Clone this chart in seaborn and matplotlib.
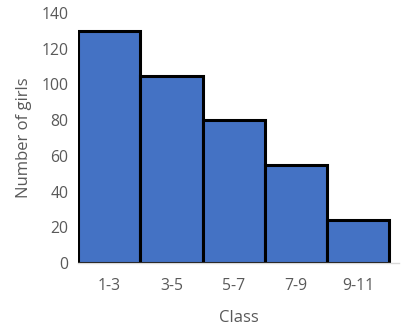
import pandas as pd
import numpy as np
import matplotlib.pyplot as plt
import seaborn as sns

classes = ['1-3', '3-5', '5-7', '7-9', '9-11']
girls = [130, 105, 80, 55, 24]

sns.set_style('white')
plt.rcParams['font.family'] = ['Open Sans', 'DejaVu Sans']

df = pd.DataFrame({'Class': classes, 'Number of girls': girls})

fig = plt.figure(figsize=(4.01, 3.33), dpi=100)
ax = fig.add_axes([0.195, 0.21, 0.80, 0.751])
sns.barplot(data=df, x='Class', y='Number of girls', color='#4472C4',
            saturation=1, width=1, edgecolor='black', linewidth=2.2, ax=ax)

ax.set_ylim(0, 140)
ax.set_yticks(np.arange(0, 141, 20))
ax.set_xlim(-0.5, 4.66)
for s in ['top', 'right', 'left']:
    ax.spines[s].set_visible(False)
ax.spines['bottom'].set_color('#D9D9D9')
ax.spines['bottom'].set_linewidth(1)
ax.tick_params(axis='both', length=0, labelsize=11.3, colors='#595959', pad=7)
ax.tick_params(axis='x', pad=11)
ax.set_xlabel('Class', fontsize=12, color='#595959', labelpad=11)
ax.set_ylabel('Number of girls', fontsize=12, color='#595959', labelpad=7)

fig.savefig('out.png', dpi=100)
